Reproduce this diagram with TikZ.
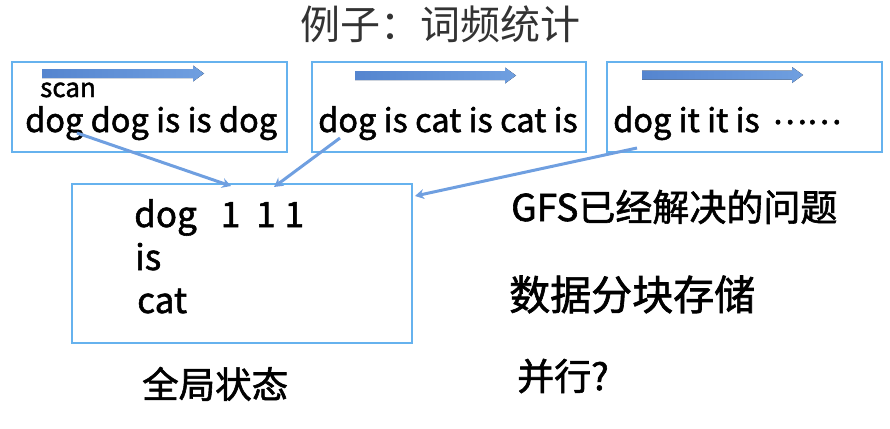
\documentclass[tikz,border=0pt]{standalone}
\usepackage{fontspec}
\setmainfont{Noto Sans CJK SC}
\newfontfamily\heavyfont[FakeBold=1.6]{Noto Sans CJK SC}
\usetikzlibrary{arrows.meta}
\definecolor{boxblue}{HTML}{66B2EE}
\definecolor{arrblue}{HTML}{6F9FE0}
\definecolor{arrdark}{HTML}{5585CF}
\tikzset{
  framebox/.style={draw=boxblue, line width=2pt},
  txt/.style={inner sep=0pt, anchor=base west, font=\heavyfont\fontsize{32.5}{32.5}\selectfont},
  big/.style={inner sep=0pt, anchor=base west, font=\heavyfont\fontsize{35}{35}\selectfont},
  cjk/.style={inner sep=0pt, anchor=base west, font=\heavyfont\fontsize{37}{37}\selectfont},
  link/.style={draw=arrblue, line width=3pt, -{Stealth[length=9pt,width=10pt]}},
  scanarrow/.style={left color=arrdark, right color=arrblue, draw=none}
}
\newcommand{\blockarrow}[3]{%
  \fill[scanarrow] (#1,#3-4.5) -- (#2-11,#3-4.5) -- (#2-11,#3-8) -- (#2,#3) -- (#2-11,#3+8) -- (#2-11,#3+4.5) -- (#1,#3+4.5) -- cycle;}
\begin{document}
\begin{tikzpicture}[x=1pt,y=-1pt]
\useasboundingbox (0,0) rectangle (890,428);
% title
\node[inner sep=0pt, text=black!80, font=\fontsize{40}{40}\selectfont] (title) at (440,24) {例子：词频统计};
% top boxes
\draw[framebox] (12,62) rectangle (287,152);
\draw[framebox] (312,62) rectangle (586,152);
\draw[framebox] (607,62) rectangle (882,152);
\blockarrow{42}{204}{73.5}
\blockarrow{355}{516}{75.5}
\blockarrow{642}{803}{75}
\node[inner sep=0pt, anchor=base west, font=\heavyfont\fontsize{26}{26}\selectfont] (scan) at (40,97) {scan};
\node[txt] (t1) at (25,132) {dog dog is is dog};
\node[txt] (t2) at (318,132) {dog is cat is cat is};
\node[txt] (t3) at (613,132) {dog it it is \,\raisebox{8pt}{……}};
% big box
\draw[framebox] (72,184) rectangle (412,343);
\node[big] (w1) at (134,227) {dog\hspace{24pt}1\hspace{16pt}1\hspace{9pt}1};
\node[big] (w2) at (135,270) {is};
\node[big] (w3) at (137,313) {cat};
\node[cjk, font=\heavyfont\fontsize{36.5}{36.5}\selectfont] (g) at (142,398) {全局状态};
% right
\node[cjk] (r1) at (511,221) {GFS已经解决的问题};
\node[cjk, font=\heavyfont\fontsize{41}{41}\selectfont] (r2) at (509,310) {数据分块存储};
\node[cjk] (r3) at (517,390) {并行?};
% connectors
\coordinate (s1) at (77,133);
\coordinate (e1) at (231,186);
\coordinate (s2) at (340,138);
\coordinate (e2) at (274,187);
\coordinate (s3) at (637,148);
\coordinate (e3) at (415,196);
\draw[link] (s1) -- (e1);
\draw[link] (s2) -- (e2);
\draw[link] (s3) -- (e3);
\end{tikzpicture}
\end{document}
